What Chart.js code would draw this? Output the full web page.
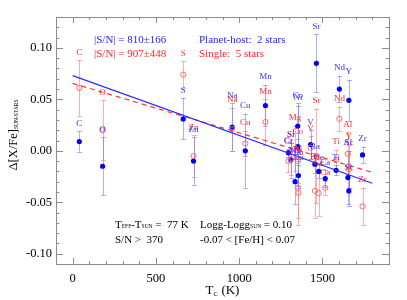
<!DOCTYPE html>
<html>
<head>
<meta charset="utf-8">
<script src="https://cdn.jsdelivr.net/npm/chart.js@4.4.1/dist/chart.umd.min.js"></script>
<style>
  html, body { margin: 0; padding: 0; background: #ffffff; }
  #c { display: block; }
</style>
</head>
<body>
<canvas id="c" width="407" height="300"></canvas>
<script>
// ---------- DATA ----------
const elements = ['C','O','S','Zn','Na','Cu','Mn','Cr','Si','Mg','Co','Ni','Eu','V','Ba','Sr','Ce','Ca','Ti','Nd','Al','Sc','Y','Zr'];
const tc = [40,180,664,726,958,1037,1158,1296,1310,1336,1352,1353,1356,1429,1455,1464,1478,1517,1582,1602,1653,1659,1659,1741];

// planet-host (blue, filled)
const hostVal = [0.009,-0.015,0.031,-0.010,0.023,0.000,0.044,-0.002,-0.009,-0.030,0.024,0.004,-0.024,0.006,-0.013,0.085,-0.020,-0.027,-0.019,0.060,-0.026,-0.039,0.049,-0.004];
const hostErr = [0.010,0.028,0.020,0.023,0.023,0.036,0.020,0.004,0.017,0.022,0.022,0.040,0.010,0.014,0.009,0.028,0.006,0.008,0.005,0.013,0.026,0.015,0.020,0.008];

// single (red, open)
const singleVal = [0.061,0.020,0.074,-0.005,0.021,0.007,0.028,-0.010,-0.008,0.002,-0.010,-0.036,-0.041,0.003,-0.039,-0.005,-0.041,-0.036,-0.009,0.031,-0.003,-0.018,-0.015,-0.054];
const singleErr = [0.027,0.029,0.013,0.020,0.021,0.0125,0.022,0.011,0.016,0.022,0.021,0.029,0.031,0.011,0.026,0.046,0.022,0.007,0.010,0.012,0.021,0.018,0.021,0.018];

// linear fits (end points)
const fitTc = [0, 1800];
const hostFit = [0.073, -0.0315];
const singleFit = [0.0655, -0.021];

// axis ticks
const xMajor = [0, 500, 1000, 1500];
const yMajor = [-0.10, -0.05, 0.00, 0.05, 0.10];

// ---------- STYLE ----------
const SERIF = "'Liberation Serif', 'Times New Roman', serif";
const BLUE = '#0000ff';
const BLUE_TXT = '#3535ff';
const BLUE_BAR = 'rgba(110,110,255,0.55)';
const RED = '#ff6a6a';
const RED_TXT = '#ff2a2a';
const RED_BAR = 'rgba(255,120,120,0.6)';

Chart.defaults.font.family = SERIF;

function drawSegments(ctx, segs, x, y, align) {
  // segs: [text, size, dy]
  let total = 0;
  segs.forEach(s => { ctx.font = s[1] + 'px ' + SERIF; total += ctx.measureText(s[0]).width; });
  let cx = align === 'center' ? x - total / 2 : x;
  segs.forEach(s => {
    ctx.font = s[1] + 'px ' + SERIF;
    ctx.fillText(s[0], cx, y + (s[2] || 0));
    cx += ctx.measureText(s[0]).width;
  });
}

const decor = {
  id: 'decor',
  beforeDatasetsDraw(chart) {
    const ctx = chart.ctx, xs = chart.scales.x, ys = chart.scales.y;
    ctx.save();
    ctx.lineWidth = 1;
    const bars = (vals, errs, color) => {
      ctx.strokeStyle = color;
      vals.forEach((v, i) => {
        const px = Math.round(xs.getPixelForValue(tc[i])) + 0.5;
        const top = ys.getPixelForValue(v + errs[i]);
        const bot = ys.getPixelForValue(v - errs[i]);
        ctx.beginPath();
        ctx.moveTo(px, top); ctx.lineTo(px, bot);
        ctx.moveTo(px - 2.5, Math.round(top) + 0.5); ctx.lineTo(px + 2.5, Math.round(top) + 0.5);
        ctx.moveTo(px - 2.5, Math.round(bot) + 0.5); ctx.lineTo(px + 2.5, Math.round(bot) + 0.5);
        ctx.stroke();
      });
    };
    bars(singleVal, singleErr, RED_BAR);
    bars(hostVal, hostErr, BLUE_BAR);
    ctx.restore();
  },
  afterDatasetsDraw(chart) {
    const ctx = chart.ctx, xs = chart.scales.x, ys = chart.scales.y, a = chart.chartArea;
    ctx.save();
    // element labels above the error bars
    ctx.textAlign = 'center';
    ctx.textBaseline = 'middle';
    ctx.font = '9px ' + SERIF;
    const labels = (vals, errs, color) => {
      ctx.fillStyle = color;
      vals.forEach((v, i) => {
        const px = xs.getPixelForValue(tc[i]);
        const top = ys.getPixelForValue(v + errs[i]);
        ctx.fillText(elements[i], px, top - 8);
      });
    };
    labels(singleVal, singleErr, RED_TXT);
    labels(hostVal, hostErr, BLUE_TXT);

    // frame
    ctx.strokeStyle = '#8c8c8c';
    ctx.lineWidth = 1;
    ctx.strokeRect(a.left + 0.5, a.top + 0.5, a.right - a.left, a.bottom - a.top);
    // ticks on all four sides
    ctx.beginPath();
    for (let v = -100; v <= 1900; v += 100) {
      const px = Math.round(xs.getPixelForValue(v)) + 0.5;
      const L = xMajor.includes(v) ? 6 : 3;
      ctx.moveTo(px, a.bottom); ctx.lineTo(px, a.bottom - L);
      ctx.moveTo(px, a.top); ctx.lineTo(px, a.top + L);
    }
    for (let k = -11; k <= 13; k++) {
      const v = k / 100;
      const py = Math.round(ys.getPixelForValue(v)) + 0.5;
      const L = (k % 5 === 0) ? 7 : 3.5;
      ctx.moveTo(a.left, py); ctx.lineTo(a.left + L, py);
      ctx.moveTo(a.right, py); ctx.lineTo(a.right - L, py);
    }
    ctx.stroke();

    // annotations
    ctx.textAlign = 'left';
    ctx.textBaseline = 'middle';
    ctx.fillStyle = '#2424ff';
    drawSegments(ctx, [['|S/N| = 810\u00b1166', 11]], 94, 40);
    drawSegments(ctx, [['Planet-host:  2 stars', 11]], 199, 40);
    ctx.fillStyle = '#ff2424';
    drawSegments(ctx, [['|S/N| = 907\u00b1448', 11]], 94, 54);
    drawSegments(ctx, [['Single:  5 stars', 11]], 199, 54);
    ctx.fillStyle = '#000000';
    drawSegments(ctx, [['T', 11], ['EFF', 5.5, 2], ['-T', 11], ['SUN', 5.5, 2], [' =  77 K', 11]], 115, 225);
    drawSegments(ctx, [['S/N >  370', 11]], 115, 240);
    drawSegments(ctx, [['Logg-Logg', 11], ['SUN', 5.5, 2], [' = 0.10', 11]], 200, 225);
    drawSegments(ctx, [['-0.07 < [Fe/H] < 0.07', 11]], 200, 240);

    // x title
    drawSegments(ctx, [['T', 13], ['C', 7, 3], [' (K)', 13]], (a.left + a.right) / 2, 291, 'center');
    // y title
    ctx.save();
    ctx.translate(14, 135);
    ctx.rotate(-Math.PI / 2);
    drawSegments(ctx, [['\u0394[X/Fe]', 12.5], ['SUN-STARS', 5.5, 3]], 0, 0, 'center');
    ctx.restore();
    ctx.restore();
  }
};

const tickFont = { family: SERIF, size: 12.5 };

new Chart(document.getElementById('c'), {
  type: 'scatter',
  data: {
    datasets: [
      {
        label: 'fit host', type: 'line',
        data: fitTc.map((t, i) => ({ x: t, y: hostFit[i] })),
        borderColor: '#2a2aff', borderWidth: 1.2, pointRadius: 0, fill: false
      },
      {
        label: 'fit single', type: 'line',
        data: fitTc.map((t, i) => ({ x: t, y: singleFit[i] })),
        borderColor: '#ff3535', borderWidth: 1.2, borderDash: [5, 4], pointRadius: 0, fill: false
      },
      {
        label: 'Single',
        data: tc.map((t, i) => ({ x: t, y: singleVal[i] })),
        pointRadius: 2.6, borderWidth: 1, borderColor: RED, backgroundColor: 'rgba(0,0,0,0)'
      },
      {
        label: 'Planet-host',
        data: tc.map((t, i) => ({ x: t, y: hostVal[i] })),
        pointRadius: 2.6, borderWidth: 0, borderColor: BLUE, backgroundColor: BLUE
      }
    ]
  },
  options: {
    responsive: false,
    animation: false,
    devicePixelRatio: 1,
    layout: { padding: { left: 0, top: 17, right: 18, bottom: 0 } },
    plugins: { legend: { display: false }, tooltip: { enabled: false } },
    scales: {
      x: {
        type: 'linear', min: -100, max: 1900,
        afterBuildTicks: s => { s.ticks = xMajor.map(v => ({ value: v })); },
        afterFit: s => { s.height = 36; },
        grid: { display: false, drawTicks: false },
        border: { display: false },
        ticks: { font: tickFont, color: '#000', padding: 7, autoSkip: false, maxRotation: 0, callback: v => String(v) }
      },
      y: {
        type: 'linear', min: -0.11, max: 0.13,
        afterBuildTicks: s => { s.ticks = yMajor.map(v => ({ value: v })); },
        afterFit: s => { s.width = 56; },
        grid: { display: false, drawTicks: false },
        border: { display: false },
        ticks: { font: tickFont, color: '#000', padding: 4, autoSkip: false, callback: v => Number(v).toFixed(2) }
      }
    }
  },
  plugins: [decor]
});
</script>
</body>
</html>
